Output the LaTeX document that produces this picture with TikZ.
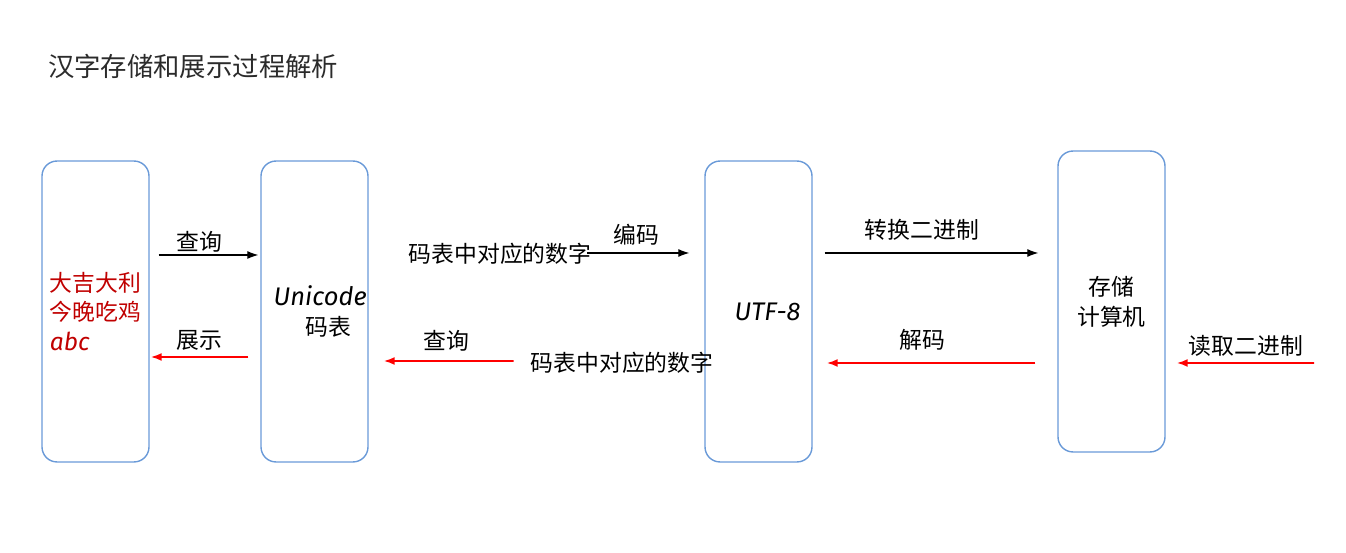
\documentclass[tikz,border=0pt]{standalone}
\usepackage{fontspec}
\setmainfont{Noto Sans CJK SC}
\newfontfamily\latinit{Fira Sans}
\usepackage{tikz}
\usetikzlibrary{arrows.meta, positioning}

\definecolor{boxblue}{HTML}{6A9AD8}
\definecolor{darkred}{HTML}{C00000}
\definecolor{titlegray}{HTML}{2B2B2B}

\begin{document}
\begin{tikzpicture}[
  x=0.02cm, y=-0.02cm,
  stage/.style={rectangle, draw=boxblue, rounded corners=0.3cm, thick,
                minimum width=2.14cm, minimum height=6.02cm,
                align=center, inner sep=0pt,
                font=\fontsize{13}{17}\selectfont},
  lbl/.style={font=\fontsize{13}{16}\selectfont, inner sep=1pt},
  arr/.style={-{Latex[length=2.2mm, width=1.6mm]}, semithick},
  redarr/.style={-{Latex[length=2.2mm, width=1.6mm]}, red, line width=1.1pt}
]
\useasboundingbox (0,0) rectangle (1346,553);

\node[anchor=west, text=titlegray, font=\fontsize{15}{18}\selectfont]
  (title) at (42,66) {汉字存储和展示过程解析};

\node[stage, align=left, text=darkred] (txt) at (95.5,311.5)
  {大吉大利\\今晚吃鸡\\{\latinit\itshape\fontsize{14}{17}\selectfont abc}};
\node[stage] (uni) at (314.5,311.5)
  {\hspace{0.5em}{\latinit\itshape\fontsize{14.5}{17}\selectfont Unicode}\\\hspace{1.2em}码表};
\node[stage] (utf) at (758.5,311.5)
  {\hspace{0.8em}{\latinit\itshape\fontsize{14.5}{17}\selectfont UTF-8}};
\node[stage] (sto) at (1111.5,301.5) {存储\\计算机};

% labels
\node[lbl] (q1)   at (199,242) {查询};
\node[lbl] (show) at (199,340) {展示};
\node[lbl] (num1) at (500,254) {码表中对应的数字};
\node[lbl] (enc)  at (636,235) {编码};
\node[lbl] (q2)   at (446,341) {查询};
\node[lbl] (num2) at (622,363) {码表中对应的数字};
\node[lbl] (bin)  at (922,230) {转换二进制};
\node[lbl] (dec)  at (922,340) {解码};
\node[lbl] (rd)   at (1246,346) {读取二进制};
\coordinate (disk) at (1314,363);

% arrows
\draw[arr] ([shift={(9,-56.5)}]txt.east) -- ([shift={(-2,-56.5)}]uni.west);
\draw[redarr] ([shift={(-12,45.5)}]uni.west) -- ([shift={(1,45.5)}]txt.east);
\draw[arr] ([shift={(-6,-1)}]num1.east) -- ([shift={(-15,-58.5)}]utf.west);
\draw[redarr] ([shift={(-15,-2)}]num2.west) -- ([shift={(15,49.5)}]uni.east);
\draw[arr] ([shift={(12,-58.5)}]utf.east) -- ([shift={(-19,-48.5)}]sto.west);
\draw[redarr] ([shift={(-22,61.5)}]sto.west) -- ([shift={(14,51.5)}]utf.east);
\draw[redarr] (disk) -- ([shift={(11,61.5)}]sto.east);
\end{tikzpicture}
\end{document}
